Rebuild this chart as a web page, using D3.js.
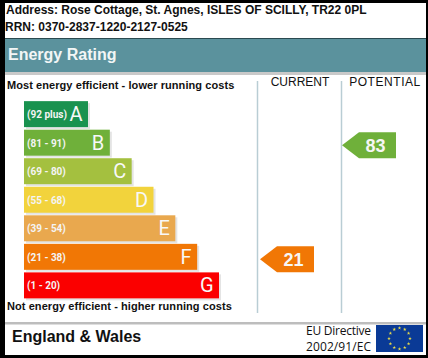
<!DOCTYPE html>
<html>
<head>
<meta charset="utf-8">
<script src="https://cdn.jsdelivr.net/npm/d3@7"></script>
<style>
  html, body { margin: 0; padding: 0; background: #fff; }
  svg { display: block; }
  text { font-family: "Liberation Sans", Arial, sans-serif; }
</style>
</head>
<body>
<div id="chart"></div>
<script>
// values
const bands = ["A", "B", "C", "D", "E", "F", "G"];
const ranges = ["(92 plus)", "(81 - 91)", "(69 - 80)", "(55 - 68)", "(39 - 54)", "(21 - 38)", "(1 - 20)"];
const bandFloor = [92, 81, 69, 55, 39, 21, 1];
const barSteps = [1, 2, 3, 4, 5, 6, 7];
const bandColors = ["#19924f", "#6fb03a", "#a4c03f", "#f2d33c", "#e9a84e", "#f17705", "#fb0000"];
const columns = ["CURRENT", "POTENTIAL"];
const scores = [21, 83];

const W = 428, H = 358;
const svg = d3.select("#chart").append("svg").attr("width", W).attr("height", H);

svg.append("rect").attr("width", W).attr("height", H).attr("fill", "#000");
svg.append("rect").attr("x", 5).attr("y", 3).attr("width", 421).attr("height", 352).attr("fill", "#fff");

function label(x, y, str, size, opts) {
    const o = opts || {};
    return svg.append("text")
        .attr("x", x).attr("y", y)
        .attr("text-anchor", o.anchor || "start")
        .attr("fill", o.fill || "#111")
        .style("font-size", size + "px")
        .style("font-weight", o.weight || "normal")
        .style("font-family", o.family || null)
        .style("letter-spacing", o.spacing || null)
        .text(str);
}

// address
label(6, 14, "Address: Rose Cottage, St. Agnes, ISLES OF SCILLY, TR22 0PL", 12, {weight: "bold"});
label(5, 31, "RRN: 0370-2837-1220-2127-0525", 12, {weight: "bold"});

// header strip
svg.append("rect").attr("x", 5).attr("y", 38).attr("width", 421).attr("height", 1).attr("fill", "#2b4a50");
svg.append("rect").attr("x", 5).attr("y", 39).attr("width", 421).attr("height", 33).attr("fill", "#5b929d");
svg.append("rect").attr("x", 5).attr("y", 72).attr("width", 421).attr("height", 3).attr("fill", "#c9c9c9");
label(8, 60, "Energy Rating", 16, {weight: "bold", fill: "#f2f6f6"});

label(7, 89, "Most energy efficient - lower running costs", 11, {weight: "bold", spacing: "0.07px"});
label(7, 310, "Not energy efficient - higher running costs", 11, {weight: "bold", spacing: "0.07px"});

// scales
const y = d3.scaleBand().domain(bands).range([100, 299.5]).paddingInner(0.09).paddingOuter(0.04);
const x = d3.scaleLinear().domain([1, 7]).range([88, 219]);
const barLeft = 24;

const rows = bands.map((b, i) => ({band: b, range: ranges[i], step: barSteps[i], color: bandColors[i]}));

// bar shadow then bar
svg.selectAll(".bar-shadow").data(rows).join("rect")
    .attr("class", "bar-shadow")
    .attr("x", barLeft + 2).attr("y", d => y(d.band) + 2)
    .attr("width", d => x(d.step) - barLeft).attr("height", y.bandwidth())
    .attr("fill", "#e4e4e4");
svg.selectAll(".bar").data(rows).join("rect")
    .attr("class", "bar")
    .attr("x", barLeft).attr("y", d => y(d.band))
    .attr("width", d => x(d.step) - barLeft).attr("height", y.bandwidth())
    .attr("fill", d => d.color);
svg.selectAll(".bar-range").data(rows).join("text")
    .attr("class", "bar-range")
    .attr("x", barLeft + 3).attr("y", d => y(d.band) + y.bandwidth() / 2 + 4)
    .attr("fill", "#f4f4f4")
    .style("font-family", "Roboto, sans-serif").style("font-size", "10px").style("font-weight", "bold")
    .text(d => d.range);
svg.selectAll(".bar-letter").data(rows).join("text")
    .attr("class", "bar-letter")
    .attr("x", d => x(d.step) - 5.5).attr("y", d => y(d.band) + y.bandwidth() / 2 + 7)
    .attr("text-anchor", "end")
    .attr("fill", "#f8f8f8")
    .style("font-family", "Roboto, sans-serif").style("font-size", "20px")
    .text(d => d.band);

// current / potential columns
const col = d3.scaleOrdinal().domain(columns).range([257.5, 341.5]);
const arrowLeft = d3.scaleOrdinal().domain(columns).range([260, 342]);
svg.selectAll(".col-line").data(columns).join("line")
    .attr("class", "col-line")
    .attr("x1", d => col(d)).attr("x2", d => col(d))
    .attr("y1", 81).attr("y2", 313)
    .attr("stroke", "#b9cdd4").attr("stroke-width", 1.5);
label(300, 86, columns[0], 12, {anchor: "middle"});
label(385, 86, columns[1], 12, {anchor: "middle", spacing: "0.55px"});

function bandOf(score) {
    return bands[bandFloor.findIndex(f => score >= f)];
}
columns.forEach((c, i) => {
    const top = y(bandOf(scores[i])) + 2.5;
    const h = y.bandwidth();
    const tip = 17;
    const body = 54;
    const g = svg.append("g").attr("transform", `translate(${arrowLeft(c)},${top})`);
    g.append("path")
        .attr("d", d3.line()([[0, h / 2], [tip, 0], [body, 0], [body, h], [tip, h]]) + "Z")
        .attr("fill", bandColors[bands.indexOf(bandOf(scores[i]))]);
    g.append("text")
        .attr("x", 33.5).attr("y", h / 2 + 6.5)
        .attr("text-anchor", "middle").attr("fill", "#f6f6f6")
        .style("font-size", "18px").style("font-weight", "bold")
        .text(scores[i]);
});

// footer
svg.append("rect").attr("x", 5).attr("y", 322).attr("width", 421).attr("height", 2.5).attr("fill", "#bdbdbd");
label(12, 342, "England & Wales", 16, {weight: "bold"});
label(306, 334.5, "EU Directive", 12, {family: "'Open Sans', sans-serif", spacing: "-0.25px"});
label(306, 351, "2002/91/EC", 12, {family: "'Open Sans', sans-serif", spacing: "0.1px"});

// flag
svg.append("rect").attr("x", 376).attr("y", 325).attr("width", 47).attr("height", 27).attr("fill", "#0a3a96");
svg.selectAll(".star").data(d3.range(12)).join("path")
    .attr("class", "star")
    .attr("d", d3.symbol(d3.symbolStar, 4))
    .attr("transform", d => {
        const a = d / 12 * 2 * Math.PI;
        return `translate(${399.5 + 10.5 * Math.sin(a)},${338.5 - 10.5 * Math.cos(a)})`;
    })
    .attr("fill", "#e8dc4a");
</script>
</body>
</html>
